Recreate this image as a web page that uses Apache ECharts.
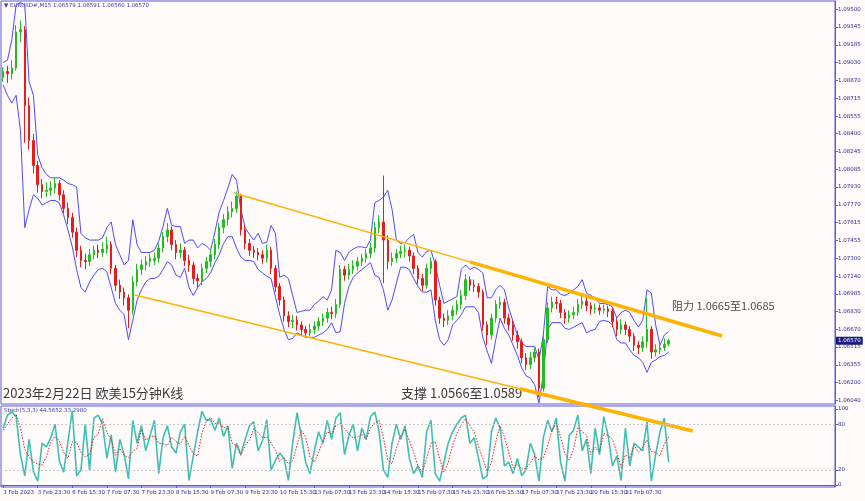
<!DOCTYPE html>
<html><head><meta charset="utf-8">
<script src="https://cdn.jsdelivr.net/npm/echarts@6/dist/echarts.min.js"></script>
<style>html,body{margin:0;padding:0;background:#fffbfa;}#c{width:865px;height:501px;}</style>
</head><body><div id="c"></div>
<script>
const tickLabels = ['3 Feb 2023','3 Feb 23:30','6 Feb 15:30','7 Feb 07:30','7 Feb 23:30','8 Feb 15:30','9 Feb 07:30','9 Feb 23:30','10 Feb 15:30','13 Feb 07:30','13 Feb 23:30','14 Feb 15:30','15 Feb 07:30','15 Feb 23:30','16 Feb 15:30','17 Feb 07:30','17 Feb 23:30','20 Feb 15:30','21 Feb 07:30','21 Feb 23:30'];
const priceTicks = [1.09500,1.09345,1.09185,1.09030,1.08870,1.08715,1.08555,1.08400,1.08245,1.08085,1.07930,1.07770,1.07615,1.07455,1.07300,1.07140,1.06985,1.06830,1.06670,1.06515,1.06355,1.06200,1.06040];
const stochTicks = [0,20,80,100];

const opens = [1.0890,1.0895,1.0893,1.0898,1.0930,1.0932,1.0865,1.0834,1.0812,1.0795,
1.0789,1.0790,1.0792,1.0796,1.0786,1.0774,1.0766,1.0753,1.0737,1.0728,
1.0727,1.0733,1.0737,1.0735,1.0738,1.0742,1.0721,1.0706,1.0700,1.0695,
1.0684,1.0709,1.0720,1.0724,1.0727,1.0728,1.0730,1.0739,1.0749,1.0755,
1.0742,1.0735,1.0737,1.0728,1.0724,1.0712,1.0710,1.0721,1.0727,1.0733,
1.0742,1.0757,1.0764,1.0771,1.0774,1.0785,1.0755,1.0743,1.0737,1.0735,
1.0733,1.0730,1.0737,1.0721,1.0705,1.0693,1.0679,1.0674,1.0675,1.0671,
1.0667,1.0664,1.0667,1.0670,1.0674,1.0677,1.0682,1.0681,1.0689,1.0720,
1.0715,1.0720,1.0723,1.0727,1.0730,1.0734,1.0739,1.0757,1.0762,1.0746,
1.0727,1.0730,1.0734,1.0736,1.0737,1.0732,1.0721,1.0712,1.0706,1.0721,
1.0727,1.0693,1.0677,1.0675,1.0679,1.0684,1.0689,1.0697,1.0711,1.0706,
1.0705,1.0700,1.0671,1.0662,1.0677,1.0689,1.0691,1.0677,1.0671,1.0662,
1.0656,1.0642,1.0636,1.0642,1.0647,1.0615,1.0658,1.0686,1.0691,1.0690,
1.0682,1.0677,1.0680,1.0682,1.0689,1.0692,1.0688,1.0685,1.0686,1.0684,
1.0685,1.0683,1.0674,1.0667,1.0671,1.0667,1.0661,1.0653,1.0651,1.0656,
1.0667,1.0647,1.0649,1.0651,1.0654];
const closes = [1.0895,1.0893,1.0898,1.0930,1.0932,1.0865,1.0834,1.0812,1.0795,1.0789,
1.0790,1.0792,1.0796,1.0786,1.0774,1.0766,1.0753,1.0737,1.0728,1.0727,
1.0733,1.0737,1.0735,1.0738,1.0742,1.0721,1.0706,1.0700,1.0695,1.0684,
1.0709,1.0720,1.0724,1.0727,1.0730,1.0730,1.0739,1.0749,1.0755,1.0742,
1.0735,1.0737,1.0728,1.0724,1.0712,1.0710,1.0721,1.0727,1.0733,1.0742,
1.0757,1.0764,1.0771,1.0774,1.0785,1.0755,1.0743,1.0737,1.0735,1.0733,
1.0730,1.0737,1.0721,1.0705,1.0693,1.0679,1.0674,1.0675,1.0671,1.0667,
1.0664,1.0667,1.0670,1.0674,1.0677,1.0682,1.0681,1.0689,1.0720,1.0715,
1.0720,1.0723,1.0727,1.0730,1.0734,1.0739,1.0757,1.0762,1.0746,1.0727,
1.0730,1.0734,1.0736,1.0737,1.0732,1.0721,1.0712,1.0706,1.0721,1.0727,
1.0693,1.0677,1.0675,1.0679,1.0684,1.0689,1.0697,1.0711,1.0706,1.0705,
1.0700,1.0671,1.0662,1.0677,1.0689,1.0691,1.0677,1.0671,1.0662,1.0656,
1.0642,1.0636,1.0642,1.0647,1.0615,1.0658,1.0686,1.0691,1.0690,1.0682,
1.0677,1.0680,1.0682,1.0689,1.0692,1.0688,1.0685,1.0686,1.0684,1.0685,
1.0683,1.0674,1.0667,1.0671,1.0667,1.0661,1.0653,1.0651,1.0656,1.0667,
1.0647,1.0649,1.0651,1.0654,1.0657];
const highs = [1.0899,1.0900,1.0905,1.0936,1.0940,1.0935,1.0872,1.0840,1.0816,1.0800,
1.0797,1.0798,1.0801,1.0799,1.0790,1.0779,1.0770,1.0757,1.0741,1.0734,
1.0738,1.0741,1.0742,1.0744,1.0749,1.0745,1.0724,1.0711,1.0704,1.0698,
1.0714,1.0725,1.0729,1.0732,1.0734,1.0735,1.0743,1.0753,1.0761,1.0758,
1.0746,1.0743,1.0740,1.0733,1.0727,1.0716,1.0725,1.0731,1.0738,1.0747,
1.0761,1.0769,1.0776,1.0780,1.0789,1.0787,1.0759,1.0747,1.0741,1.0739,
1.0737,1.0742,1.0740,1.0724,1.0708,1.0696,1.0683,1.0680,1.0679,1.0674,
1.0670,1.0672,1.0674,1.0678,1.0681,1.0686,1.0687,1.0694,1.0724,1.0723,
1.0725,1.0728,1.0731,1.0734,1.0738,1.0744,1.0762,1.0768,1.0803,1.0750,
1.0735,1.0738,1.0741,1.0742,1.0740,1.0735,1.0724,1.0716,1.0725,1.0731,
1.0729,1.0696,1.0681,1.0684,1.0688,1.0693,1.0702,1.0716,1.0714,1.0711,
1.0708,1.0702,1.0674,1.0681,1.0693,1.0696,1.0694,1.0681,1.0675,1.0666,
1.0659,1.0646,1.0647,1.0651,1.0650,1.0662,1.0691,1.0696,1.0696,1.0693,
1.0685,1.0684,1.0687,1.0694,1.0698,1.0695,1.0691,1.0690,1.0689,1.0689,
1.0688,1.0686,1.0677,1.0676,1.0674,1.0670,1.0664,1.0657,1.0661,1.0695,
1.0670,1.0654,1.0655,1.0659,1.0659];
const lows = [1.0886,1.0885,1.0888,1.0896,1.0921,1.0832,1.0826,1.0805,1.0788,1.0783,
1.0784,1.0785,1.0787,1.0781,1.0770,1.0760,1.0748,1.0731,1.0722,1.0720,
1.0723,1.0729,1.0730,1.0731,1.0734,1.0716,1.0701,1.0694,1.0688,1.0668,
1.0680,1.0705,1.0715,1.0719,1.0722,1.0724,1.0726,1.0735,1.0744,1.0737,
1.0729,1.0730,1.0723,1.0718,1.0707,1.0704,1.0706,1.0717,1.0722,1.0729,
1.0738,1.0752,1.0759,1.0766,1.0770,1.0750,1.0738,1.0732,1.0730,1.0728,
1.0725,1.0726,1.0716,1.0700,1.0688,1.0674,1.0669,1.0668,1.0666,1.0662,
1.0660,1.0661,1.0663,1.0666,1.0670,1.0673,1.0676,1.0677,1.0686,1.0710,
1.0711,1.0716,1.0719,1.0723,1.0726,1.0730,1.0735,1.0752,1.0708,1.0720,
1.0723,1.0726,1.0730,1.0731,1.0727,1.0716,1.0707,1.0701,1.0703,1.0716,
1.0688,1.0672,1.0669,1.0671,1.0675,1.0680,1.0685,1.0693,1.0701,1.0700,
1.0695,1.0666,1.0653,1.0658,1.0673,1.0685,1.0672,1.0666,1.0657,1.0650,
1.0637,1.0631,1.0632,1.0638,1.0607,1.0612,1.0655,1.0682,1.0685,1.0677,
1.0672,1.0673,1.0676,1.0679,1.0685,1.0683,1.0680,1.0681,1.0680,1.0681,
1.0678,1.0669,1.0661,1.0663,1.0662,1.0656,1.0648,1.0645,1.0647,1.0651,
1.0641,1.0643,1.0645,1.0648,1.0652];
const bandUpper = [1.0903,1.0905,1.0923,1.0954,1.0956,1.0954,1.0886,1.0874,1.0821,1.0810,
1.0804,1.0801,1.0801,1.0801,1.0799,1.0796,1.0795,1.0793,1.0752,1.0748,
1.0746,1.0746,1.0746,1.0748,1.0757,1.0762,1.0742,1.0733,1.0724,1.0728,
1.0764,1.0742,1.0735,1.0735,1.0735,1.0737,1.0745,1.0758,1.0774,1.0759,
1.0758,1.0758,1.0743,1.0746,1.0746,1.0739,1.0743,1.0741,1.0737,1.0753,
1.0771,1.0781,1.0792,1.0804,1.0799,1.0773,1.0757,1.0751,1.0746,1.0752,
1.0743,1.0744,1.0759,1.0752,1.0713,1.0715,1.0712,1.0697,1.0682,1.0683,
1.0684,1.0684,1.0689,1.0692,1.0696,1.0693,1.0702,1.0737,1.0735,1.0728,
1.0735,1.0738,1.0740,1.0740,1.0739,1.0746,1.0779,1.0781,1.0784,1.0790,
1.0773,1.0746,1.0743,1.0744,1.0748,1.0751,1.0735,1.0731,1.0736,1.0737,
1.0724,1.0706,1.0690,1.0692,1.0694,1.0696,1.0720,1.0724,1.0720,1.0722,
1.0720,1.0717,1.0695,1.0695,1.0702,1.0706,1.0702,1.0686,1.0674,1.0662,
1.0655,1.0652,1.0652,1.0652,1.0640,1.0662,1.0705,1.0702,1.0702,1.0698,
1.0697,1.0699,1.0702,1.0705,1.0711,1.0699,1.0697,1.0695,1.0690,1.0690,
1.0689,1.0687,1.0677,1.0682,1.0684,1.0682,1.0675,1.0669,1.0675,1.0702,
1.0699,1.0671,1.0653,1.0662,1.0665];
const bandLower = [1.0883,1.0874,1.0867,1.0874,1.0843,1.0757,1.0773,1.0786,1.0783,1.0777,
1.0779,1.0781,1.0781,1.0779,1.0768,1.0755,1.0740,1.0720,1.0704,1.0700,
1.0709,1.0715,1.0720,1.0721,1.0718,1.0704,1.0690,1.0684,1.0680,1.0658,
1.0675,1.0693,1.0702,1.0709,1.0712,1.0712,1.0714,1.0720,1.0727,1.0724,
1.0715,1.0713,1.0721,1.0704,1.0697,1.0704,1.0709,1.0712,1.0717,1.0726,
1.0733,1.0743,1.0749,1.0749,1.0739,1.0731,1.0728,1.0728,1.0727,1.0720,
1.0717,1.0714,1.0712,1.0696,1.0680,1.0667,1.0658,1.0659,1.0664,1.0662,
1.0660,1.0660,1.0660,1.0662,1.0664,1.0667,1.0673,1.0664,1.0665,1.0690,
1.0705,1.0713,1.0717,1.0720,1.0723,1.0726,1.0715,1.0713,1.0702,1.0684,
1.0693,1.0708,1.0722,1.0722,1.0720,1.0712,1.0705,1.0700,1.0700,1.0702,
1.0675,1.0658,1.0653,1.0658,1.0671,1.0675,1.0680,1.0687,1.0687,1.0687,
1.0682,1.0660,1.0648,1.0637,1.0658,1.0677,1.0668,1.0662,1.0653,1.0644,
1.0633,1.0626,1.0624,1.0618,1.0602,1.0627,1.0667,1.0673,1.0673,1.0673,
1.0668,1.0667,1.0669,1.0671,1.0673,1.0664,1.0666,1.0667,1.0674,1.0675,
1.0674,1.0671,1.0658,1.0655,1.0655,1.0649,1.0644,1.0642,1.0638,1.0629,
1.0638,1.0640,1.0643,1.0644,1.0647];
const stochK = [75,92,96,90,40,12,60,18,5,55,
50,62,80,32,17,57,98,12,20,80,
20,88,92,80,35,66,17,60,40,8,
85,55,78,45,65,85,15,62,78,50,
42,70,80,6,38,70,97,85,86,72,
88,64,78,22,55,40,60,78,83,45,
58,86,20,32,42,35,6,55,95,65,
30,15,45,70,55,85,60,88,95,40,
65,80,45,75,60,90,96,70,20,10,
55,80,60,78,35,15,25,10,70,85,
15,5,30,55,70,80,88,92,55,62,
35,8,12,70,88,75,25,30,15,35,
12,20,55,40,5,62,85,70,88,30,
5,65,72,92,45,60,15,75,40,90,
65,25,38,6,75,25,55,50,45,83,
5,40,70,88,30];
const stochD = [72,80,88,93,75,47,37,30,28,26,
37,56,64,58,43,35,57,56,43,37,
40,63,67,87,69,60,39,48,39,36,
44,49,73,59,63,65,55,54,52,63,
57,54,64,52,41,38,68,84,89,81,
82,75,77,55,52,39,52,59,74,69,
62,63,55,46,31,36,28,32,52,72,
63,37,30,43,57,70,67,78,81,74,
67,62,63,67,60,75,82,85,62,33,
28,48,65,73,58,43,25,17,35,55,
57,35,17,30,52,68,79,87,78,70,
51,35,18,30,57,78,63,43,23,27,
21,22,29,38,33,36,51,72,81,63,
41,33,47,76,70,66,40,50,43,68,
65,60,43,23,40,35,52,43,50,59,
44,43,38,54,63];
// trend lines: [bar index, price]
const resistanceLine = [[53.4,1.07876],[108.0,1.07267],[166.4,1.06612]];
const supportLine = [[30.5,1.06974],[119.6,1.06145],[159.6,1.05772]];
const lastPrice = 1.06570;

const N = 193;
const cats = Array.from({length:N}, (_, i) => String(i));
const candleData = opens.map((o, i) => [o, closes[i], lows[i], highs[i]]);
const blue = '#5a5ad8';
const axisTxt = '#2a2a90';
const tickShow = (i) => i % 8 === 0 && i / 8 < tickLabels.length;
const orange = '#ffb300';

function trend(line) {
  return {type:'line', xAxisIndex:2, yAxisIndex:2, data:line.slice(0,2), symbol:'none', clip:false,
    lineStyle:{color:orange, width:1.5}, z:5,
    markLine:{silent:true, precision:5, symbol:['none','arrow'], symbolSize:[0,9], label:{show:false},
      lineStyle:{color:orange, width:3.5, type:'solid'},
      data:[[{coord:line[1]},{coord:line[2]}]]}};
}

const chart = echarts.init(document.getElementById('c'), null, {renderer:'canvas'});
chart.setOption({
  animation:false,
  backgroundColor:'#fffbfa',
  grid:[
    {left:1, right:30, top:1, height:403, show:true, borderColor:blue, borderWidth:1},
    {left:1, right:30, top:406, height:81, show:true, borderColor:blue, borderWidth:1},
    {left:1, right:30, top:1, height:486, show:false}
  ],
  xAxis:[
    {type:'category', gridIndex:0, data:cats, boundaryGap:true, axisLine:{show:false}, axisTick:{show:false}, axisLabel:{show:false}, splitLine:{show:false}},
    {type:'category', gridIndex:1, data:cats, boundaryGap:true,
      axisLine:{show:true, lineStyle:{color:blue}},
      axisTick:{show:true, alignWithLabel:true, interval:tickShow, length:3, lineStyle:{color:blue}},
      axisLabel:{interval:tickShow, formatter:(v, i) => tickLabels[i/8] || '', align:'left', fontSize:5.5, color:axisTxt, margin:3, fontFamily:'DejaVu Sans'},
      splitLine:{show:false}},
    {type:'value', gridIndex:2, min:-0.5, max:N-0.5, show:false}
  ],
  yAxis:[
    {type:'value', gridIndex:0, position:'right', min:1.060108, max:1.095734, splitLine:{show:false},
      axisLine:{show:true, lineStyle:{color:blue}},
      axisTick:{show:true, length:3, customValues:priceTicks, lineStyle:{color:blue}},
      axisLabel:{customValues:priceTicks, formatter:v => v.toFixed(5), fontSize:5.5, color:axisTxt, margin:3, fontFamily:'DejaVu Sans'}},
    {type:'value', gridIndex:1, position:'right', min:-2.6, max:103.9, splitLine:{show:false},
      axisLine:{show:true, lineStyle:{color:blue}},
      axisTick:{show:true, length:3, customValues:stochTicks, lineStyle:{color:blue}},
      axisLabel:{customValues:stochTicks, fontSize:5.5, color:axisTxt, margin:3, fontFamily:'DejaVu Sans'}},
    {type:'value', gridIndex:2, min:1.052771, max:1.095734, show:false}
  ],
  series:[
    {type:'line', xAxisIndex:0, yAxisIndex:0, data:bandUpper, symbol:'none', lineStyle:{color:'#4b4bff', width:1}, z:2,
      markLine:{silent:true, precision:5, symbol:'none', data:[{yAxis:lastPrice}], lineStyle:{color:'rgba(0,0,0,0)', width:0},
        label:{position:'end', distance:1, formatter:'1.06570', fontSize:5.5, color:'#ffffff', backgroundColor:'#1d1d80', padding:[1,2], fontFamily:'DejaVu Sans'}}},
    {type:'line', xAxisIndex:0, yAxisIndex:0, data:bandLower, symbol:'none', lineStyle:{color:'#4b4bff', width:1}, z:2},
    {type:'candlestick', xAxisIndex:0, yAxisIndex:0, data:candleData, barWidth:2, z:3,
      itemStyle:{color:'#1fbf1f', color0:'#e81c1c', borderColor:'#1fbf1f', borderColor0:'#e81c1c', borderWidth:1}},
    trend(resistanceLine),
    trend(supportLine),
    {type:'line', xAxisIndex:1, yAxisIndex:1, data:stochK, symbol:'none', lineStyle:{color:'#3cc0b4', width:1.6}, z:2,
      markLine:{silent:true, symbol:'none', label:{show:false}, lineStyle:{color:'#c8c8c8', type:[2,2], width:1}, data:[{yAxis:20},{yAxis:80}]}},
    {type:'line', xAxisIndex:1, yAxisIndex:1, data:stochD, symbol:'none', lineStyle:{color:'#e82020', width:1, type:[1.5,1.5]}, z:3}
  ],
  graphic:[
    {type:'text', left:4, top:3, style:{text:'▼ EURUSD#,M15 1.06579 1.06591 1.06560 1.06570', fill:'#3a3aa8', font:'5.5px DejaVu Sans'}},
    {type:'text', left:4, top:408, style:{text:'Stoch(5,3,3) 44.5652 33.2980', fill:'#3a3aa8', font:'5.5px DejaVu Sans'}},
    {type:'text', left:3, top:387, style:{text:'2023年2月22日 欧美15分钟K线', fill:'#3c3c3c', font:'13px "Noto Sans CJK SC"'}},
    {type:'text', left:401, top:387, style:{text:'支撑 1.0566至1.0589', fill:'#3c3c3c', font:'13px "Noto Sans CJK SC"'}},
    {type:'text', left:672, top:300, style:{text:'阻力 1.0665至1.0685', fill:'#4a4a4a', font:'11px "Noto Sans CJK SC"'}}
  ]
});
</script></body></html>
